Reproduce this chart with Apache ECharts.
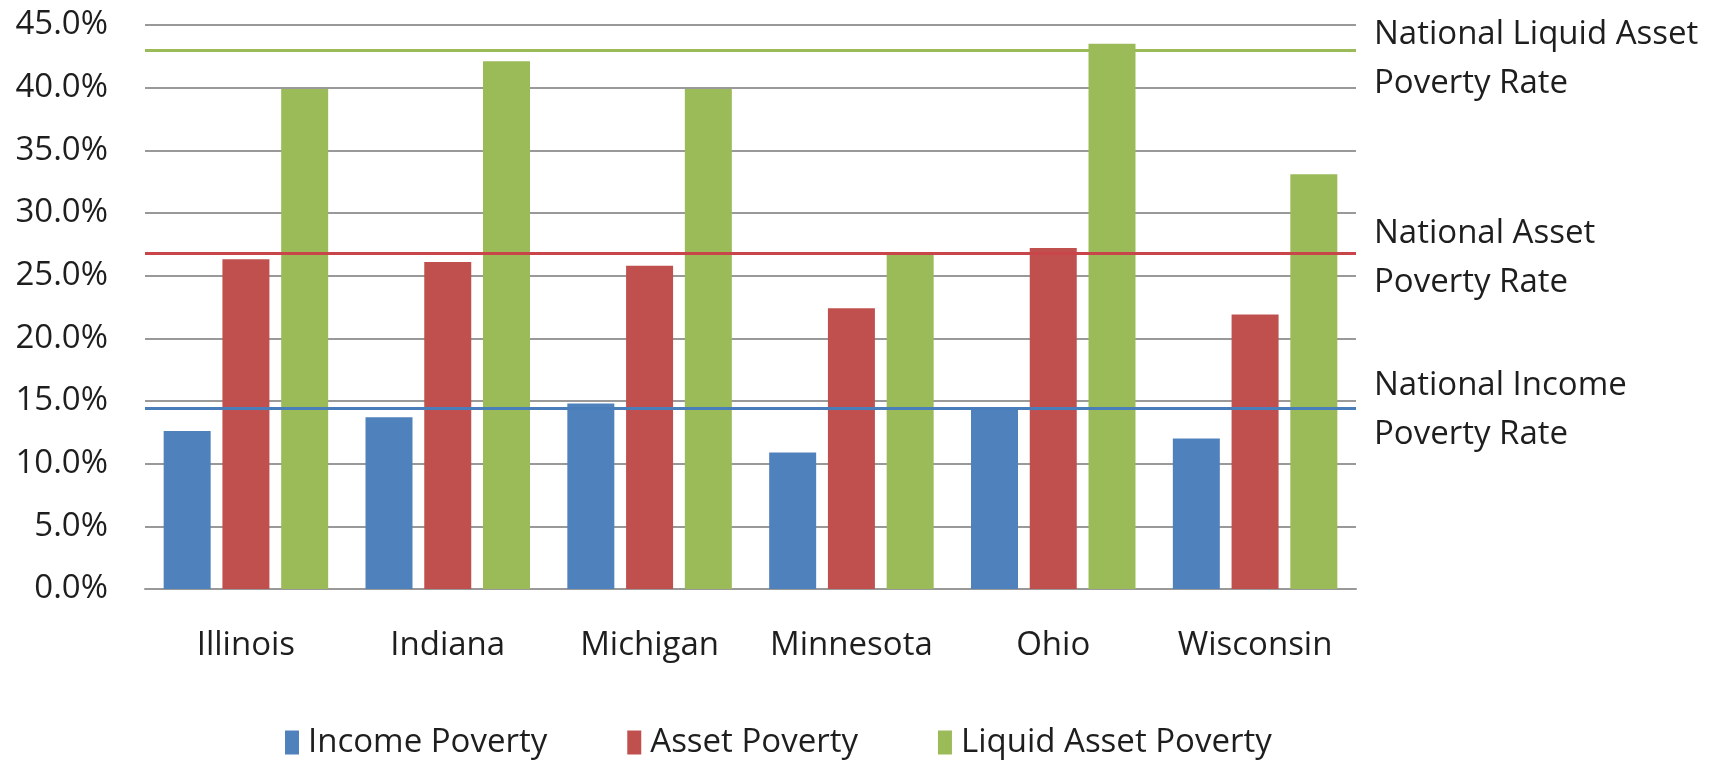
<!DOCTYPE html>
<html>
<head>
<meta charset="utf-8">
<title>Poverty rates</title>
<script src="https://cdn.jsdelivr.net/npm/echarts@6/dist/echarts.min.js"></script>
<style>
  html, body { margin: 0; padding: 0; background: #fff; }
  #chart { width: 1721px; height: 761px; }
</style>
</head>
<body>
<div id="chart"></div>
<script>
  // data, in percent
  const states = ['Illinois', 'Indiana', 'Michigan', 'Minnesota', 'Ohio', 'Wisconsin']
  const incomePoverty = [12.6, 13.7, 14.8, 10.9, 14.4, 12.0]
  const assetPoverty = [26.3, 26.1, 25.8, 22.4, 27.2, 21.9]
  const liquidAssetPoverty = [39.9, 42.1, 39.9, 26.8, 43.5, 33.1]
  // national rates drawn as horizontal lines
  const nationalIncome = 14.4
  const nationalAsset = 26.8
  const nationalLiquid = 43.0
  const yTicks = { min: 0, max: 45, interval: 5 }

  const fontFamily = 'Open Sans'
  const textColor = '#1e1e1e'

  // label on the right end of each national line
  function nationalLine(value, name, color, dy) {
    return {
      silent: true,
      symbol: 'none',
      lineStyle: { color: color, width: 3, type: 'solid' },
      label: {
        show: true,
        position: 'end',
        distance: 18,
        offset: [0, dy],
        formatter: name,
        fontFamily: fontFamily,
        fontSize: 33,
        lineHeight: 49,
        color: textColor,
        align: 'left'
      },
      emphasis: { disabled: true },
      data: [{ yAxis: value }]
    }
  }

  function barSeries(name, data, color, markLine) {
    return {
      name: name,
      type: 'bar',
      data: data,
      barWidth: 47,
      barGap: '25%',
      itemStyle: { color: color },
      markLine: markLine
    }
  }

  const chart = echarts.init(document.getElementById('chart'))
  chart.setOption({
    animation: false,
    grid: { left: 145, right: 365, top: 25, bottom: 172 },
    legend: {
      left: 280,
      top: 721,
      icon: 'rect',
      itemWidth: 14,
      itemHeight: 24,
      itemGap: 80,
      textStyle: {
        fontFamily: fontFamily,
        fontSize: 33,
        color: textColor,
        padding: [0, 0, 0, 4]
      }
    },
    xAxis: {
      type: 'category',
      data: states,
      axisTick: { show: false },
      axisLine: { lineStyle: { color: '#999', width: 2 } },
      axisLabel: {
        interval: 0,
        fontFamily: fontFamily,
        fontSize: 33,
        color: textColor,
        margin: 40
      }
    },
    yAxis: {
      type: 'value',
      min: yTicks.min,
      max: yTicks.max,
      interval: yTicks.interval,
      axisLine: { show: false },
      axisTick: { show: false },
      splitLine: { lineStyle: { color: '#999', width: 2 } },
      axisLabel: {
        fontFamily: fontFamily,
        fontSize: 33,
        color: textColor,
        margin: 37,
        formatter: (v) => v.toFixed(1) + '%'
      }
    },
    series: [
      barSeries('Income Poverty', incomePoverty, '#4F81BD',
        nationalLine(nationalIncome, 'National Income\nPoverty Rate', '#4A7EBB', 2)),
      barSeries('Asset Poverty', assetPoverty, '#C0504D',
        nationalLine(nationalAsset, 'National Asset\nPoverty Rate', '#C8454A', 5)),
      barSeries('Liquid Asset Poverty', liquidAssetPoverty, '#9BBB59',
        nationalLine(nationalLiquid, 'National Liquid Asset\nPoverty Rate', '#9BBB59', 9))
    ]
  })
</script>
</body>
</html>
